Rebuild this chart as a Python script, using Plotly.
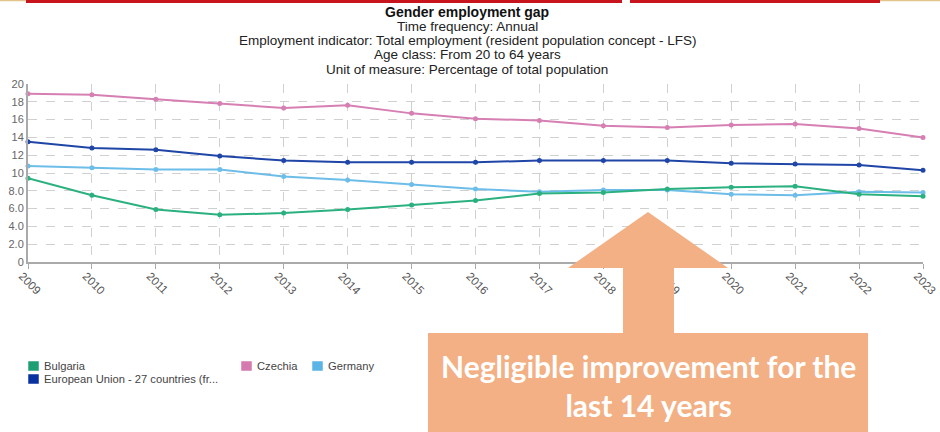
import plotly.graph_objects as go

# Gender employment gap, percentage points, ages 20-64
years = list(range(2009, 2024))
bulgaria = [9.4, 7.5, 5.9, 5.3, 5.5, 5.9, 6.4, 6.9, 7.7, 7.8, 8.2, 8.4, 8.5, 7.6, 7.4]
czechia = [18.9, 18.8, 18.3, 17.8, 17.3, 17.6, 16.7, 16.1, 15.9, 15.3, 15.1, 15.4, 15.5, 15.0, 14.0]
germany = [10.8, 10.6, 10.4, 10.4, 9.6, 9.2, 8.7, 8.2, 7.9, 8.1, 8.1, 7.6, 7.5, 7.9, 7.8]
eu27 = [13.5, 12.8, 12.6, 11.9, 11.4, 11.2, 11.2, 11.2, 11.4, 11.4, 11.4, 11.1, 11.0, 10.9, 10.3]

series_names = ["Bulgaria", "European Union - 27 countries (fr...", "Czechia", "Germany"]
y_ticks = [0, 2, 4, 6, 8, 10, 12, 14, 16, 18, 20]
y_tick_text = ["0", "2.0", "4.0", "6.0", "8.0", "10", "12", "14", "16", "18", "20"]

title_text = "Gender employment gap"
title_lines = [
    "Time frequency: Annual",
    "Employment indicator: Total employment (resident population concept - LFS)",
    "Age class: From 20 to 64 years",
    "Unit of measure: Percentage of total population",
]
callout = "Negligible improvement for the<br>last 14 years"

line_colors = {
    "Bulgaria": "#2bb07f",
    "Czechia": "#d67fb3",
    "Germany": "#6dbde9",
    "EU": "#1f45a6",
}
swatch_colors = ["#1e9e73", "#0a31a0", "#d47aae", "#5ab4e5"]

W, H = 940, 432
L, R, T, B = 28, 923, 84, 262

fig = go.Figure()
for name, vals, key in [
    ("Czechia", czechia, "Czechia"),
    ("European Union - 27 countries", eu27, "EU"),
    ("Germany", germany, "Germany"),
    ("Bulgaria", bulgaria, "Bulgaria"),
]:
    fig.add_trace(go.Scatter(
        x=years, y=vals, name=name, mode="lines+markers",
        line=dict(color=line_colors[key], width=2),
        marker=dict(color=line_colors[key], size=5),
        showlegend=False, cliponaxis=False,
    ))

grid = dict(showgrid=True, gridcolor="#d0d0d0", griddash="dash", gridwidth=1)
fig.update_xaxes(
    range=[2009, 2023], tickmode="array", tickvals=years,
    ticktext=[str(y) for y in years], tickangle=45,
    ticks="outside", ticklen=5, tickcolor="#aaaaaa",
    ticklabeloverflow="allow", automargin=False,
    ticklabelshift=-6, ticklabelstandoff=-4,
    showline=True, linecolor="#aaaaaa", linewidth=2,
    tickfont=dict(family="Liberation Sans", size=11.5, color="#555555"),
    zeroline=False, **grid,
)
fig.update_yaxes(
    range=[0, 20], tickmode="array", tickvals=y_ticks, ticktext=y_tick_text,
    showline=True, linecolor="#aaaaaa", linewidth=2, ticks="", automargin=False,
    tickfont=dict(family="Liberation Sans", size=11, color="#666666"),
    zeroline=False, **grid,
)


def to_paper(x, y):
    """Pixel position on the page -> paper coordinates of the plot area."""
    return (x - L) / (R - L), (B - y) / (B - T)


fig_shapes = []
annotations = []

# Slide trim along the top edge
trim = [
    (26, 622, 1.5, "#c8141c", 3),
    (630, 880, 1.5, "#c8141c", 3),
    (0, 26, 0.5, "#e3c48a", 1.5),
    (880, 940, 0.5, "#e3c48a", 1.5),
]
for x0, x1, yy, col, w in trim:
    a, b = to_paper(x0, yy)
    c, _ = to_paper(x1, yy)
    fig_shapes.append(dict(type="line", xref="paper", yref="paper", x0=a, x1=c, y0=b, y1=b,
                           line=dict(color=col, width=w), layer="above"))

# Callout arrow and box
ox, oy = to_paper(428, 333)
ex, ey = to_paper(868, 432)
fig_shapes.append(dict(type="rect", xref="paper", yref="paper", x0=ox, y0=ey, x1=ex, y1=oy,
                       fillcolor="#f2b084", line=dict(width=0), layer="above"))
arrow_pts = [(623, 334), (623, 268), (568, 268), (648, 212), (728, 268), (674, 268), (674, 334)]
path = "M " + " L ".join(f"{to_paper(x, y)[0]:.5f},{to_paper(x, y)[1]:.5f}" for x, y in arrow_pts) + " Z"
fig_shapes.append(dict(type="path", xref="paper", yref="paper", path=path,
                       fillcolor="#f2b084", line=dict(width=0), layer="above"))

cx, cy = to_paper(648, 385)
annotations.append(dict(
    xref="paper", yref="paper", x=cx, y=cy, text=callout, showarrow=False,
    font=dict(family="Lato", size=30, color="white", weight="bold"),
    xanchor="center", yanchor="middle", align="center",
))

# Title block
tx, ty = to_paper(467, 12)
annotations.append(dict(
    xref="paper", yref="paper", x=tx, y=ty, text=f"<b>{title_text}</b>",
    showarrow=False, xanchor="center", yanchor="middle",
    font=dict(family="Liberation Sans", size=14, color="#111111"),
))
for i, line in enumerate(title_lines):
    lx, ly = to_paper(467, 26.5 + i * 14.2)
    annotations.append(dict(
        xref="paper", yref="paper", x=lx, y=ly, text=line, showarrow=False,
        xanchor="center", yanchor="middle",
        font=dict(family="Liberation Sans", size=13.5, color="#222222"),
    ))

# Legend swatches and labels
legend_pos = [(28, 366), (28, 379), (241, 366), (312, 366)]
for (lx0, ly0), name, col in zip(legend_pos, series_names, swatch_colors):
    a, b = to_paper(lx0, ly0 - 5)
    c, d = to_paper(lx0 + 11, ly0 + 5)
    fig_shapes.append(dict(type="rect", xref="paper", yref="paper", x0=a, y0=d, x1=c, y1=b,
                           fillcolor=col, line=dict(color="#ffffff", width=0.5), layer="above"))
    tx, ty = to_paper(lx0 + 14, ly0)
    annotations.append(dict(
        xref="paper", yref="paper", x=tx, y=ty, text=name, showarrow=False,
        xanchor="left", yanchor="middle",
        font=dict(family="Liberation Sans", size=11.2, color="#444444"),
    ))

fig.update_layout(
    width=W, height=H,
    margin=dict(l=L, r=W - R, t=T, b=H - B),
    paper_bgcolor="white", plot_bgcolor="white",
    shapes=fig_shapes, annotations=annotations,
    showlegend=False,
)

fig.write_html("out.html", config={"displayModeBar": False})
